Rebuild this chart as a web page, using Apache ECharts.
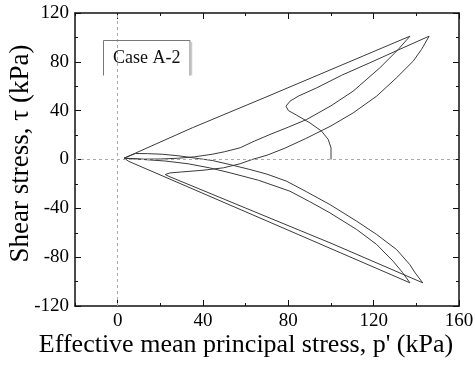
<!DOCTYPE html>
<html>
<head>
<meta charset="utf-8">
<script src="https://cdn.jsdelivr.net/npm/echarts@6/dist/echarts.min.js"></script>
<style>html,body{margin:0;padding:0;background:#fff}#c{width:475px;height:367px}</style>
</head>
<body>
<div id="c"></div>
<script>
// Stress path pieces: [p' (kPa), tau (kPa)]
const initialLoading = [[100,0],[100,9.6],[98.7,16.4],[95.6,23.2],[90.1,30],[83.9,36.3],[80,40.1],[78.9,43.7],[80.8,47.8],[84.7,51.9],[93.3,58.7],[105,69],[118.2,79.2],[133.8,91.5],[146,101]];
const firstUnloading = [[146,101],[142.4,90.1],[138.5,80.5],[130.7,66.9],[121.4,51.9],[110.4,38.2],[100,27.5],[88,17],[78,9],[70,3.5],[63,0],[57.4,-3.5],[49.6,-6.8],[40,-8.8],[30,-10.2],[24.5,-11],[22.3,-12.3]];
const firstNegLoading = [[22.3,-12.3],[24,-13.8],[60,-39.8],[100,-68.6],[143,-101]];
const firstNegUnloading = [[143,-101],[139.5,-93],[136.9,-86],[130.7,-73.7],[121.4,-61.4],[112,-50.5],[99.5,-36.9],[88.6,-26.5],[79.2,-17.8],[70,-12],[62,-8.2],[53,-4.3],[44.3,-0.8],[38.5,0.6],[28.7,3],[20.9,4.3],[14,4.8],[8.3,4.9]];
const secondLoading = [[8.3,4.9],[3,1.1],[8.3,5.2],[35,26],[70,51.5],[137,101]];
const secondUnloading = [[137,101],[131.5,90.1],[122.9,75.1],[110.4,56],[100,44],[88.6,32.8],[80,26.5],[71.4,20.5],[64,15],[57.4,9.6],[50,6.3],[44.3,4.3],[36,2.2],[28,1],[20,0.4],[12,0.3],[3,1.1]];
const secondNegLoading = [[3,1.1],[5.3,-1.6],[70,-50.4],[137,-101]];
const secondNegUnloading = [[137,-101],[133.5,-92.5],[129.1,-83.3],[121.4,-69.6],[112,-57.3],[99.5,-43.7],[90,-34.5],[80.8,-26],[66,-17],[52.7,-10.9],[43,-6.8],[33,-3.5],[22,-1.2],[12,0],[3,1.1]];

const xTickLabels = [0,40,80,120,160];
const yTickLabels = [-120,-80,-40,0,40,80,120];
const caseLabel = 'Case A-2';

const FONT = "'Liberation Serif','Times New Roman',serif";
const pathPieces = [initialLoading, firstUnloading, firstNegLoading, firstNegUnloading, secondLoading, secondUnloading, secondNegLoading, secondNegUnloading];

const chart = echarts.init(document.getElementById('c'), null, {renderer:'canvas'});

const axisLineStyle = {color:'#111', width:1.5};
const baseX = {type:'value', min:-20, max:160, interval:20, splitLine:{show:false}};
const series = pathPieces.map((d,i)=>({
  type:'line', data:d, showSymbol:false, symbol:'none', smooth:false,
  lineStyle:{color:'#3a3a3a', width:1}, silent:true, z:3,
  markLine: i===0 ? {symbol:'none', silent:true, label:{show:false},
    lineStyle:{color:'#aaa', type:[3,3], width:1},
    data:[{xAxis:0},{yAxis:0}]} : undefined
}));

chart.setOption({
  animation:false,
  grid:{left:75, right:16, top:13, bottom:61, containLabel:false, outerBoundsMode:'none'},
  xAxis:[
    Object.assign({}, baseX, {position:'bottom',
      axisLine:{show:true, onZero:false, lineStyle:axisLineStyle},
      axisTick:{show:true, inside:true, length:3, lineStyle:{color:'#111'}},
      axisLabel:{show:true, margin:6, color:'#000', fontFamily:FONT, fontSize:19,
        formatter:(v)=> xTickLabels.indexOf(v)>=0 ? String(v) : ''},
      name:"Effective mean principal stress, p' (kPa)", nameLocation:'middle', nameGap:26, nameMoveOverlap:false,
      nameTextStyle:{color:'#000', fontFamily:FONT, fontSize:26, padding:[0,42,0,0]}}),
    Object.assign({}, baseX, {position:'bottom',
      axisLine:{show:false, onZero:false},
      axisTick:{show:true, inside:true, length:6, customValues:xTickLabels, lineStyle:{color:'#111'}},
      axisLabel:{show:false}}),
    Object.assign({}, baseX, {position:'top',
      axisLine:{show:true, onZero:false, lineStyle:axisLineStyle},
      axisTick:{show:true, inside:true, length:3, lineStyle:{color:'#111'}},
      axisLabel:{show:false}}),
    Object.assign({}, baseX, {position:'top',
      axisLine:{show:false, onZero:false},
      axisTick:{show:true, inside:true, length:6, customValues:xTickLabels, lineStyle:{color:'#111'}},
      axisLabel:{show:false}})
  ],
  yAxis:[
    {type:'value', min:-120, max:120, interval:40, position:'left',
      splitLine:{show:false},
      axisLine:{show:true, onZero:false, lineStyle:axisLineStyle},
      axisTick:{show:true, inside:true, length:6, lineStyle:{color:'#111'}},
      minorTick:{show:true, splitNumber:2, length:3, lineStyle:{color:'#111'}},
      axisLabel:{show:true, margin:6, color:'#000', fontFamily:FONT, fontSize:19,
        formatter:(v)=> yTickLabels.indexOf(v)>=0 ? String(v) : ''},
      name:'Shear stress, \u03c4 (kPa)', nameLocation:'middle', nameGap:41, nameMoveOverlap:false,
      nameTextStyle:{color:'#000', fontFamily:FONT, fontSize:27, padding:[0,0,0,12]}},
    {type:'value', min:-120, max:120, interval:40, position:'right',
      splitLine:{show:false},
      axisLine:{show:true, onZero:false, lineStyle:axisLineStyle},
      axisTick:{show:true, inside:true, length:6, lineStyle:{color:'#111'}},
      minorTick:{show:true, splitNumber:2, length:3, lineStyle:{color:'#111'}},
      axisLabel:{show:false}}
  ],
  series: series,
  graphic:[
    {type:'polyline', silent:true, z:10,
      shape:{points:[[103.5,75.5],[103.5,40.5],[190,40.5],[190,75.5]]},
      style:{stroke:'#777', lineWidth:1, fill:null}},
    {type:'line', silent:true, z:10, shape:{x1:191.5,y1:42,x2:191.5,y2:75.5},
      style:{stroke:'#ccc', lineWidth:1.5}},
    {type:'text', silent:true, z:11, x:146.7, y:58,
      style:{text:caseLabel, fontFamily:FONT, fontSize:18, fill:'#111', align:'center', verticalAlign:'middle'}}
  ]
});
</script>
</body>
</html>
